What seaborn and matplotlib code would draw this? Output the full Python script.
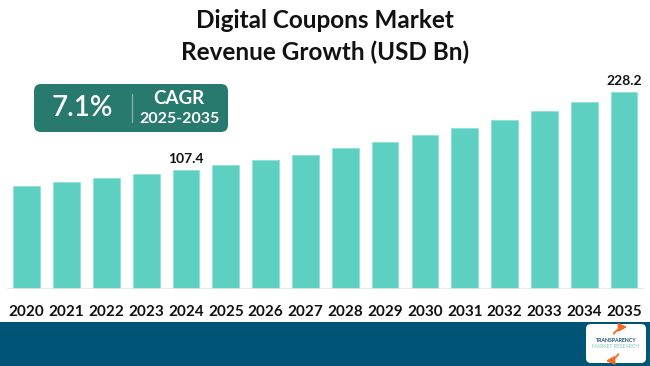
import numpy as np
import pandas as pd
import matplotlib
matplotlib.use("Agg")
import matplotlib.pyplot as plt
from matplotlib.patches import FancyBboxPatch, Rectangle
import seaborn as sns

years = ["2020", "2021", "2022", "2023", "2024", "2025", "2026", "2027",
         "2028", "2029", "2030", "2031", "2032", "2033", "2034", "2035"]
revenue = [83.1, 88.8, 95.0, 101.2, 107.4, 115.0, 123.1, 131.9,
           141.3, 151.2, 161.9, 173.4, 185.7, 198.9, 213.0, 228.2]
labelled = {"2024": "107.4", "2035": "228.2"}
title_lines = ["Digital Coupons Market", "Revenue Growth (USD Bn)"]
cagr_value = "7.1%"
cagr_label = "CAGR"
cagr_period = "2025-2035"

AXIS_FLOOR = -76.9
Y_TOP = 240.0

sns.set_theme(style="white")
plt.rcParams["font.family"] = ["Lato", "DejaVu Sans"]

W, H = 650, 366
fig = plt.figure(figsize=(6.5, 3.66), dpi=100)
fig.patch.set_facecolor("white")

# main bar axes
base_px = 289.3
top_px = base_px - (Y_TOP - AXIS_FLOOR) / 1.549
left_px, right_px = 6.8, 644.0
ax = fig.add_axes([left_px / W, 1 - base_px / H, (right_px - left_px) / W,
                   (base_px - top_px) / H])
ax.set_facecolor("none")

df = pd.DataFrame({"year": years, "revenue": revenue})
df["span"] = df["revenue"] - AXIS_FLOOR
sns.barplot(data=df, x="year", y="span", bottom=AXIS_FLOOR, color="#5DD0C2",
            saturation=1, width=0.67, edgecolor="#8ee0d6", linewidth=0.6, ax=ax)
ax.set_ylim(AXIS_FLOOR, Y_TOP)
ax.set_xlim(-0.5, len(years) - 0.5)
ax.axhline(AXIS_FLOOR, color="#e3e6e8", lw=1.2, xmin=0.0, xmax=1.0, zorder=5)
for s in ax.spines.values():
    s.set_visible(False)
ax.set_yticks([])
ax.set_xlabel("")
ax.set_ylabel("")
ax.tick_params(axis="x", length=0, pad=11)
for lab in ax.get_xticklabels():
    lab.set_fontweight("bold")
    lab.set_fontsize(11)
    lab.set_color("#111111")

for i, (yr, val) in enumerate(zip(years, revenue)):
    if yr in labelled:
        ax.annotate(labelled[yr], (i, val), xytext=(0, 4), textcoords="offset points",
                    ha="center", va="bottom", fontsize=10, fontweight="bold",
                    color="#111111")

# decoration overlay in pixel coordinates
ov = fig.add_axes([0, 0, 1, 1], zorder=3)
ov.set_xlim(0, W)
ov.set_ylim(H, 0)
ov.axis("off")
ov.patch.set_alpha(0)

for k, line in enumerate(title_lines):
    ov.text(W / 2, 20 + k * 32, line, ha="center", va="center", fontsize=17.5,
            fontweight="bold", color="#111111")

# CAGR box
ov.add_patch(FancyBboxPatch((34, 84), 194, 48, boxstyle="round,pad=0,rounding_size=7",
                            fc="#287A6E", ec="none"))
ov.plot([132, 132], [94, 122], color="#7fb1a8", lw=1)
ov.text(82, 108, cagr_value, ha="center", va="center", fontsize=20,
        color="white", fontweight="semibold")
ov.text(179, 98, cagr_label, ha="center", va="center", fontsize=13.5,
        color="white", fontweight="bold")
ov.text(179, 119, cagr_period, ha="center", va="center", fontsize=11.5,
        color="white", fontweight="bold")

# bottom band
ov.add_patch(Rectangle((0, 322), W, H - 322, fc="#005577", ec="none"))
ov.add_patch(FancyBboxPatch((586, 324), 60, 39, boxstyle="round,pad=0,rounding_size=5",
                            fc="white", ec="none"))
ov.text(616, 340, "TRANSPARENCY", ha="center", va="center", fontsize=3.8,
        fontweight="bold", color="#1f4e79")
ov.text(616, 346, "MARKET RESEARCH", ha="center", va="center", fontsize=3.6,
        color="#7cc6bf")
ov.annotate("", xy=(630, 327), xytext=(612, 336),
            arrowprops=dict(arrowstyle="-|>", color="#f26b21", lw=1.3,
                            connectionstyle="arc3,rad=-0.3"))
ov.annotate("", xy=(603, 361), xytext=(620, 352),
            arrowprops=dict(arrowstyle="-|>", color="#f26b21", lw=1.3,
                            connectionstyle="arc3,rad=-0.3"))

fig.savefig("out.png", dpi=100, facecolor=fig.get_facecolor())
